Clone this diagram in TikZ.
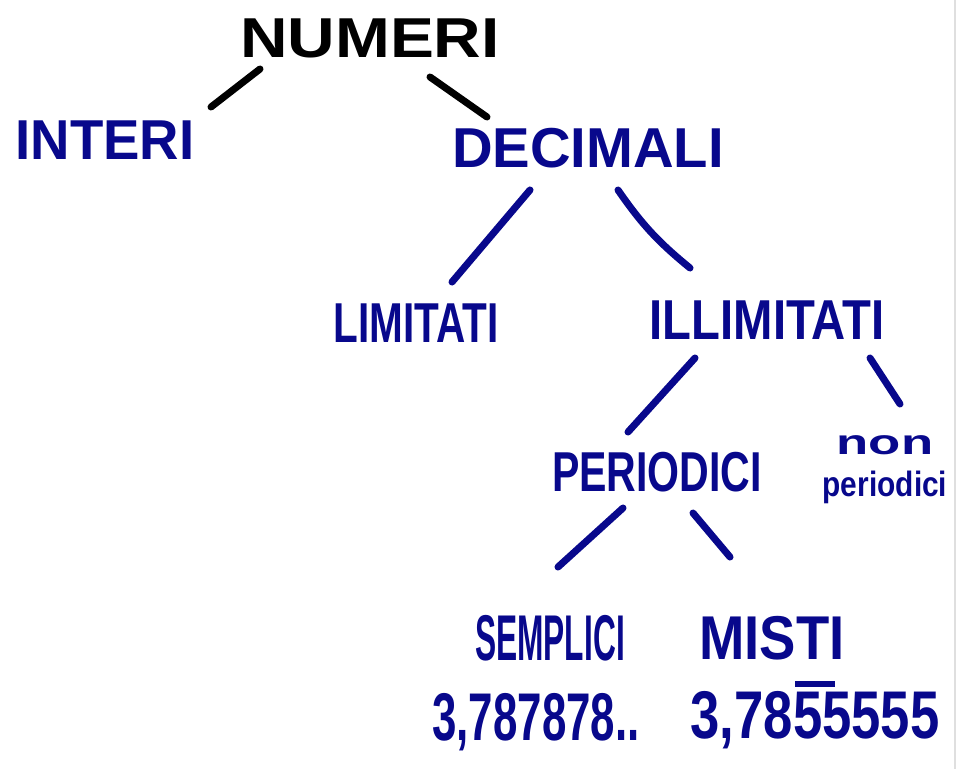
\documentclass[tikz,border=0pt]{standalone}
\usepackage{graphicx}
\usepackage{fontspec}
\setmainfont{Liberation Sans}
\usepackage{tikz}
\usetikzlibrary{calc}
\definecolor{ink}{RGB}{8,8,140}
\newcommand{\wordscale}[2]{\scalebox{#1}[1]{#2}}
\newcommand{\periodbar}[1]{\rlap{\hspace{0.04em}\rule[0.76em]{0.75em}{0.09em}}#1}

\begin{document}
\begin{tikzpicture}[x=0.025cm,y=-0.025cm,
	every node/.style={inner sep=0, text=ink, font=\bfseries\fontsize{40}{44}\selectfont},
	pen/.style={line width=5pt, line cap=round, color=ink}]
				\useasboundingbox (0,0) rectangle (968,769);
				%% words of the tree, placed by hand
				\node (numeri) at (370,38) [text=black] {\wordscale{1.17}{NUMERI}};
				\node (interi) at (105,140) {\wordscale{0.97}{INTERI}};
				\node (decimali) at (588,148) {DECIMALI};
				\node (limitati) at (416,323) {\wordscale{0.72}{LIMITATI}};
				\node (illimitati) at (767,320) {\wordscale{0.84}{ILLIMITATI}};
				\node (periodici) at (657,472) {\wordscale{0.73}{PERIODICI}};
				\node (nonper) at (885,470) [align=center, font=\bfseries\fontsize{25}{30}\selectfont]
					{\wordscale{1.5}{non}\\\wordscale{0.85}{periodici}};
				\node (semplici) at (550,638) [font=\bfseries\fontsize{46}{50}\selectfont] {\wordscale{0.49}{SEMPLICI}};
				\node (misti) at (772,638) [font=\bfseries\fontsize{44}{48}\selectfont] {\wordscale{0.88}{MISTI}};
				%% the two examples
				\node (exsemplici) at (536,722) [font=\bfseries\fontsize{48}{52}\selectfont]
					{\wordscale{0.65}{3,787878..}};
				\node (exmisti) at (815,715) [font=\bfseries\fontsize{48}{52}\selectfont]
					{\wordscale{0.78}{3,78\periodbar{5}5555}};

				\draw [pen, color = black]($(numeri)+(-110,31)$)--($(interi)+(106,-33)$);
				\draw [pen, color = black]($(numeri)+(60,39)$)--($(decimali)+(-101,-31)$);
				\draw [pen]($(decimali)+(-58,42)$)--($(limitati)+(36,-41)$);
				\draw [pen]($(decimali)+(30,42)$) to[bend right=8] ($(illimitati)+(-77,-52)$);
				\draw [pen]($(illimitati)+(-72,38)$)--($(periodici)+(-29,-40)$);
				\draw [pen]($(illimitati)+(103,38)$)--($(nonper)+(15,-66)$);
				\draw [pen]($(periodici)+(-34,36)$)--($(semplici)+(8,-71)$);
				\draw [pen]($(periodici)+(36,41)$)--($(misti)+(-42,-81)$);
				%\draw (955,0)--(955,769);
				\draw [color = gray!25, line width=1pt](955,0)--(955,769);
\end{tikzpicture}
\end{document}
